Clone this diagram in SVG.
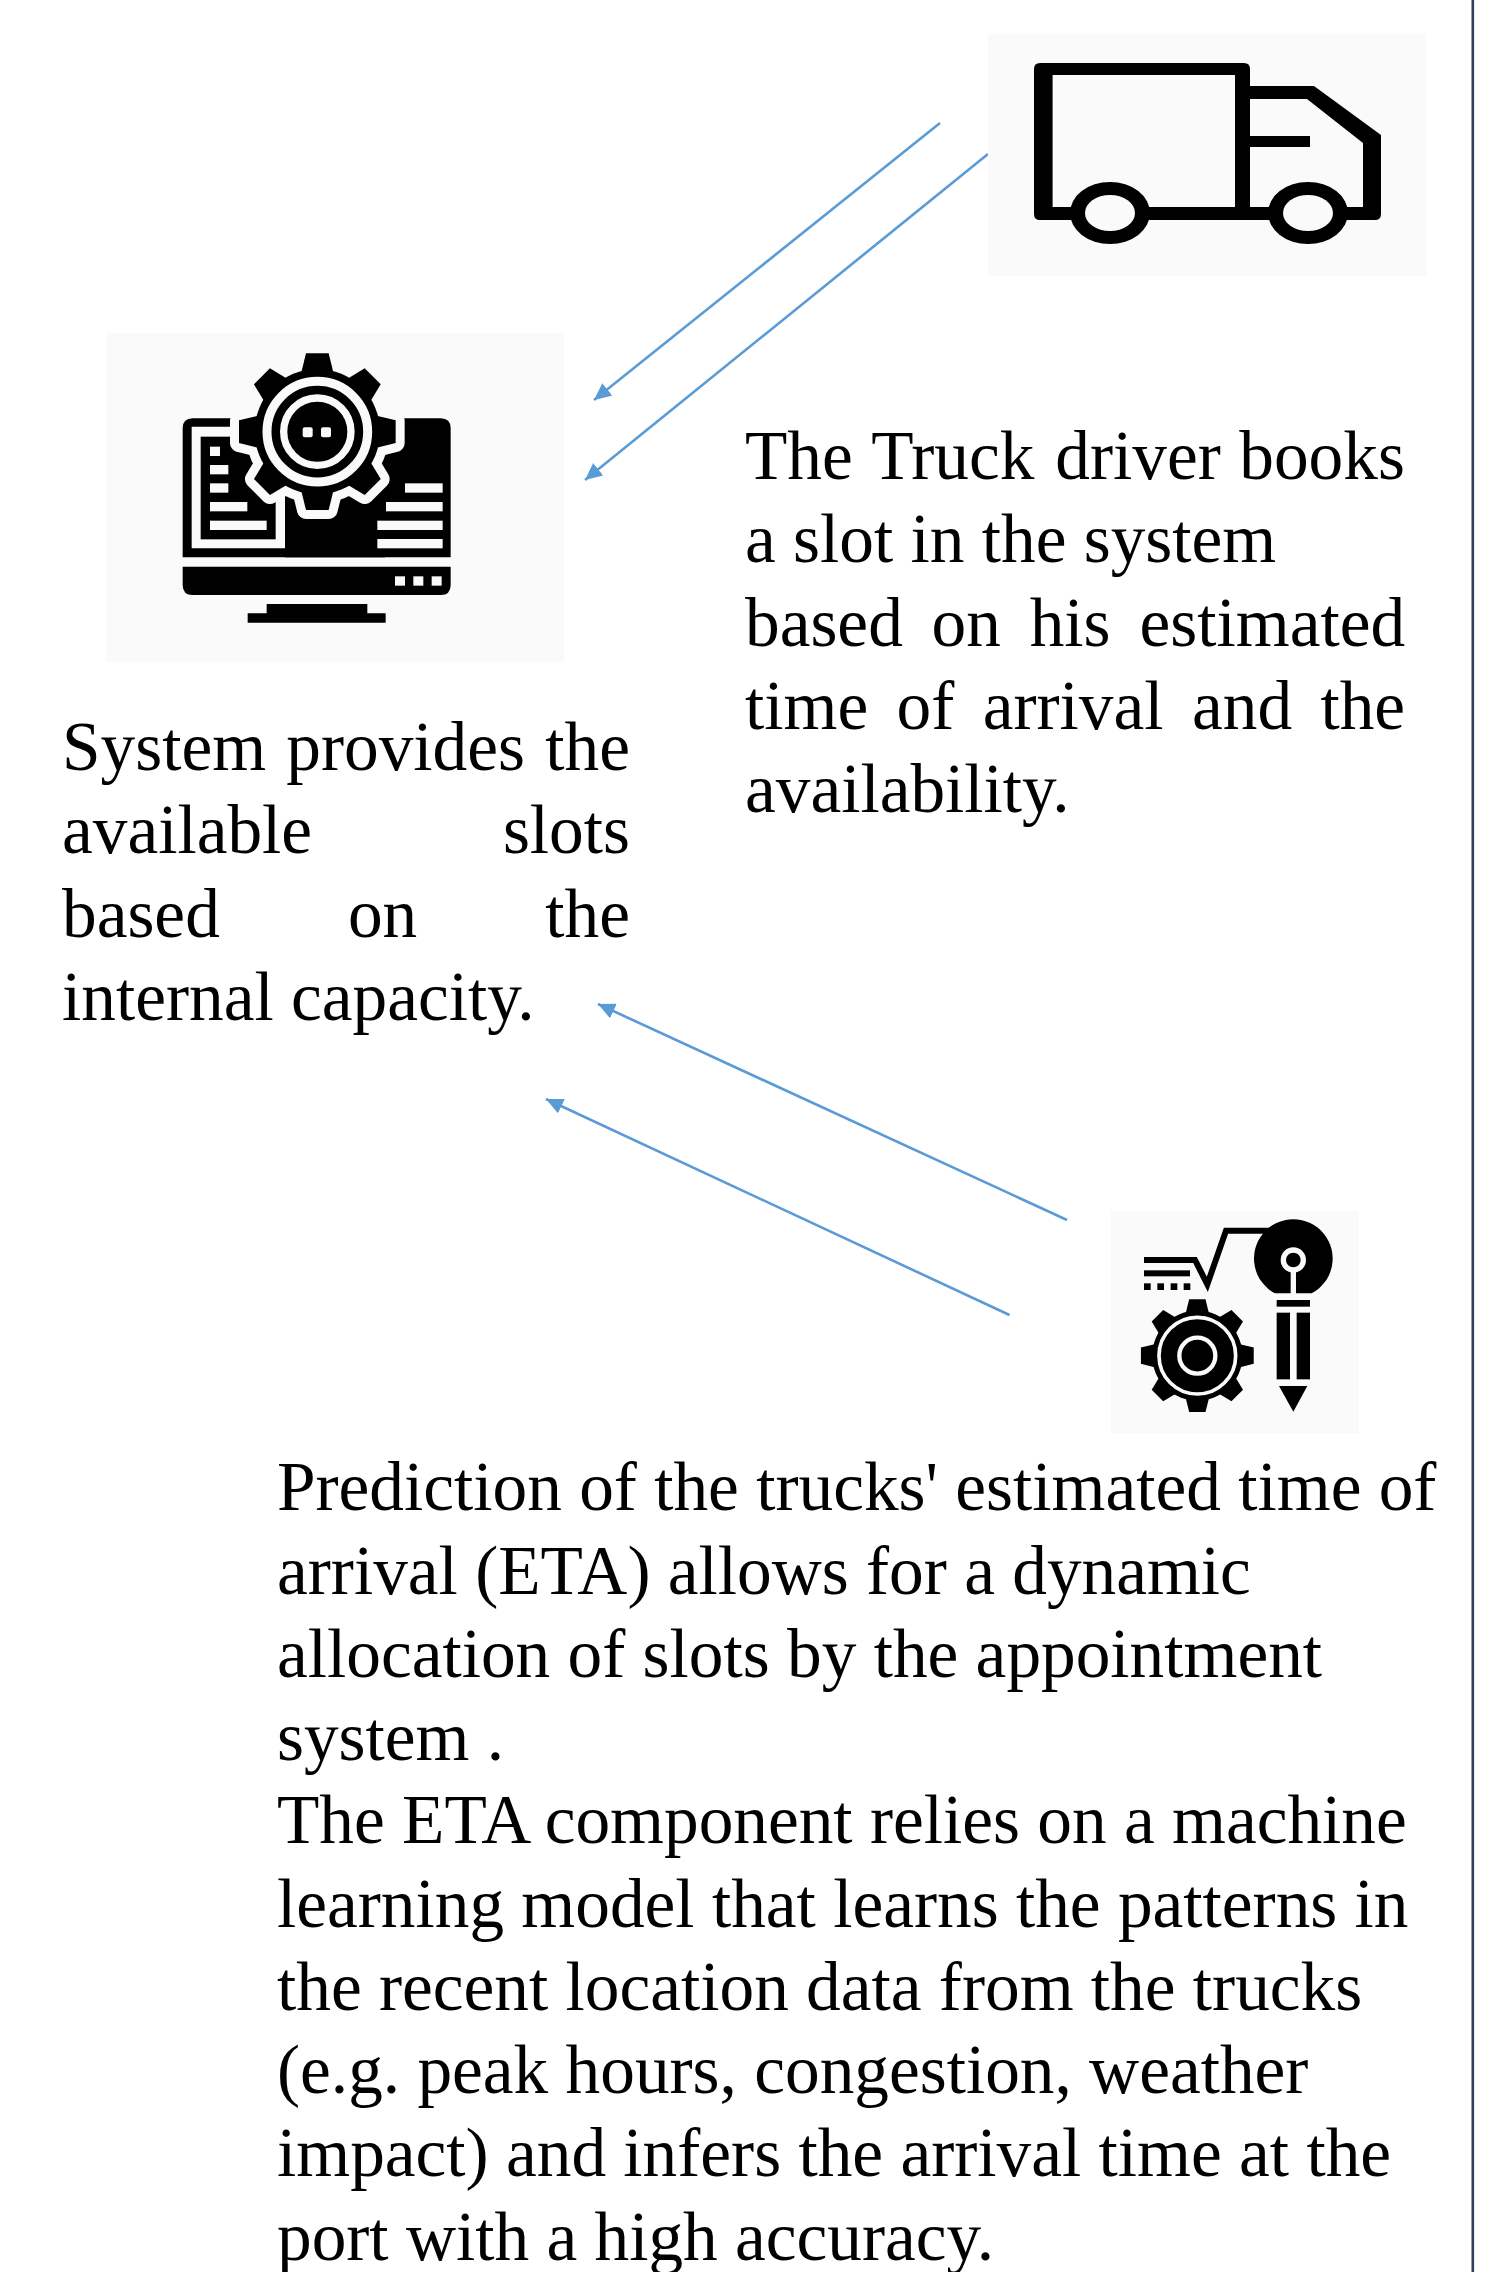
<svg xmlns="http://www.w3.org/2000/svg" width="1502" height="2272" viewBox="0 0 1502 2272">
<style>
text{font-family:"Liberation Serif","Times New Roman",serif;font-size:69.3px;fill:#000}
.bg{fill:#fafafa}
.ink{fill:#000}
.gap{fill:#fafafa}
.conn{fill:none;stroke:#5b9bd5;stroke-width:2.6;marker-end:url(#ah)}
</style>
<defs>
<marker id="ah" markerUnits="userSpaceOnUse" markerWidth="20" markerHeight="18" refX="17" refY="8" orient="auto"><path d="M0 0L17 8L0 16Z" fill="#5b9bd5"/></marker>
<g id="gear8">
<circle r="188"/>
<path d="M-48-178L-34-235H34L48-178Z"/>
<path d="M-48-178L-34-235H34L48-178Z" transform="rotate(45)"/>
<path d="M-48-178L-34-235H34L48-178Z" transform="rotate(90)"/>
<path d="M-48-178L-34-235H34L48-178Z" transform="rotate(135)"/>
<path d="M-48-178L-34-235H34L48-178Z" transform="rotate(180)"/>
<path d="M-48-178L-34-235H34L48-178Z" transform="rotate(225)"/>
<path d="M-48-178L-34-235H34L48-178Z" transform="rotate(270)"/>
<path d="M-48-178L-34-235H34L48-178Z" transform="rotate(315)"/>
</g>
</defs>
<rect width="1502" height="2272" fill="#fff"/>
<rect x="1471.5" y="0" width="2.6" height="2272" fill="#2f4058"/>

<g id="connectors">
<line class="conn" x1="940" y1="123" x2="594" y2="400"/>
<line class="conn" x1="988" y1="154" x2="585" y2="480"/>
<line class="conn" x1="1067" y1="1220" x2="598" y2="1004"/>
<line class="conn" x1="1009.500" y1="1315" x2="546" y2="1099"/>
</g>

<g id="node-truck">
<rect class="bg" x="988" y="34" width="438" height="242"/>
<path class="ink" fill-rule="evenodd" d="M1040 63H1244Q1250 63 1250 69V86H1314L1381 135V214Q1381 220 1375 220H1040Q1034 220 1034 214V69Q1034 63 1040 63ZM1052.600 75V207H1235V75ZM1250 99V136H1310V147H1250V207H1363V143L1307 99Z"/>
<ellipse class="ink" cx="1110" cy="213" rx="40" ry="31"/>
<ellipse class="bg" cx="1110" cy="213" rx="25" ry="18"/>
<ellipse class="ink" cx="1308" cy="213" rx="40" ry="31"/>
<ellipse class="bg" cx="1308" cy="213" rx="25" ry="18"/>
</g>

<g id="node-system">
<rect class="bg" x="106" y="333" width="458" height="329"/>
<g transform="translate(90 320) scale(.33333)">
<path class="ink" d="M308 295H1052Q1082 295 1082 325V712H278V325Q278 295 308 295Z"/>
<path class="gap" d="M305 320H600V685H305Z"/>
<rect class="ink" x="332" y="350" width="225" height="308"/>
<g class="gap">
<rect x="360" y="380" width="30" height="28"/>
<rect x="360" y="435" width="55" height="28"/>
<rect x="360" y="490" width="55" height="28"/>
<rect x="360" y="546" width="112" height="28"/>
<rect x="360" y="602" width="170" height="28"/>
</g>
<rect class="ink" x="585" y="500" width="300" height="212"/>
<rect class="gap" x="945" y="490" width="113" height="28"/>
<rect class="gap" x="888" y="546" width="170" height="28"/>
<rect class="gap" x="862" y="602" width="196" height="28"/>
<rect class="gap" x="862" y="657" width="196" height="28"/>
<use href="#gear8" transform="translate(682 335)" fill="#fafafa" stroke="#fafafa" stroke-width="54" stroke-linejoin="round"/>
<use href="#gear8" transform="translate(682 335)" fill="#000"/>
<circle cx="682" cy="335" r="151" fill="none" stroke="#fafafa" stroke-width="27"/>
<circle cx="682" cy="335" r="101" fill="none" stroke="#fafafa" stroke-width="22"/>
<rect class="gap" x="638" y="322" width="30" height="30" rx="6"/>
<rect class="gap" x="693" y="322" width="30" height="30" rx="6"/>
<path class="ink" d="M278 740H1082V795Q1082 825 1052 825H308Q278 825 278 795Z"/>
<rect class="gap" x="915" y="769" width="30" height="28"/>
<rect class="gap" x="970" y="769" width="30" height="28"/>
<rect class="gap" x="1025" y="769" width="30" height="28"/>
<path class="ink" d="M530 852H832V880H887V908H473V880H530Z"/>
</g>
</g>

<g id="node-analytics">
<rect class="bg" x="1111" y="1211" width="248" height="222"/>
<g transform="translate(1080 1190) scale(.33333)">
<path d="M192 210H345L382 283L438 122H570" fill="none" stroke="#000" stroke-width="18"/>
<rect class="ink" x="192" y="241" width="138" height="18"/>
<rect class="ink" x="192" y="280" width="20" height="20"/>
<rect class="ink" x="232" y="280" width="20" height="20"/>
<rect class="ink" x="272" y="280" width="20" height="20"/>
<rect class="ink" x="311" y="280" width="20" height="20"/>
<path class="ink" d="M585 310A118 118 0 1 1 695 310H648V245H632V310Z"/>
<circle class="ink" cx="640" cy="208" r="30"/>
<circle cx="640" cy="210" r="30" fill="none" stroke="#fafafa" stroke-width="16"/>
<rect class="ink" x="590" y="330" width="100" height="20"/>
<rect class="ink" x="590" y="368" width="40" height="200"/>
<rect class="ink" x="650" y="368" width="40" height="200"/>
<path class="ink" d="M597 588H682L640 665Z"/>
<use href="#gear8" transform="translate(352 497) scale(.72)" fill="#000"/>
<circle cx="352" cy="497" r="115" fill="none" stroke="#fafafa" stroke-width="11"/>
<circle cx="352" cy="497" r="54" fill="none" stroke="#fafafa" stroke-width="13"/>
</g>
</g>

<g id="text-truck">
<text y="479"><tspan x="745">The</tspan><tspan x="871.300">Truck</tspan><tspan x="1055.300">driver</tspan><tspan x="1239.300">books</tspan></text>
<text x="745" y="562.200">a slot in the system</text>
<text y="645.500"><tspan x="745">based</tspan><tspan x="931.600">on</tspan><tspan x="1029.700">his</tspan><tspan x="1139.500">estimated</tspan></text>
<text y="728.700"><tspan x="745">time</tspan><tspan x="896.600">of</tspan><tspan x="982.700">arrival</tspan><tspan x="1192">and</tspan><tspan x="1320.400">the</tspan></text>
<text x="745" y="812">availability.</text>
</g>
<g id="text-system">
<text y="770"><tspan x="62">System</tspan><tspan x="286.300">provides</tspan><tspan x="545.300">the</tspan></text>
<text y="853.200"><tspan x="62">available</tspan><tspan x="502.900">slots</tspan></text>
<text y="936.500"><tspan x="62">based</tspan><tspan x="347.900">on</tspan><tspan x="545.300">the</tspan></text>
<text x="62" y="1019.700">internal capacity.</text>
</g>
<g id="text-eta">
<text x="277" y="1510.300">Prediction of the trucks' estimated time of</text>
<text x="277" y="1593.500">arrival (ETA) allows for a dynamic</text>
<text x="277" y="1676.800">allocation of slots by the appointment</text>
<text x="277" y="1760">system .</text>
<text x="277" y="1843.300">The ETA component relies on a machine</text>
<text x="277" y="1926.500">learning model that learns the patterns in</text>
<text x="277" y="2009.800">the recent location data from the trucks</text>
<text x="277" y="2093">(e.g. peak hours, congestion, weather</text>
<text x="277" y="2176.300">impact) and infers the arrival time at the</text>
<text x="277" y="2259.500">port with a high accuracy.</text>
</g>
</svg>
